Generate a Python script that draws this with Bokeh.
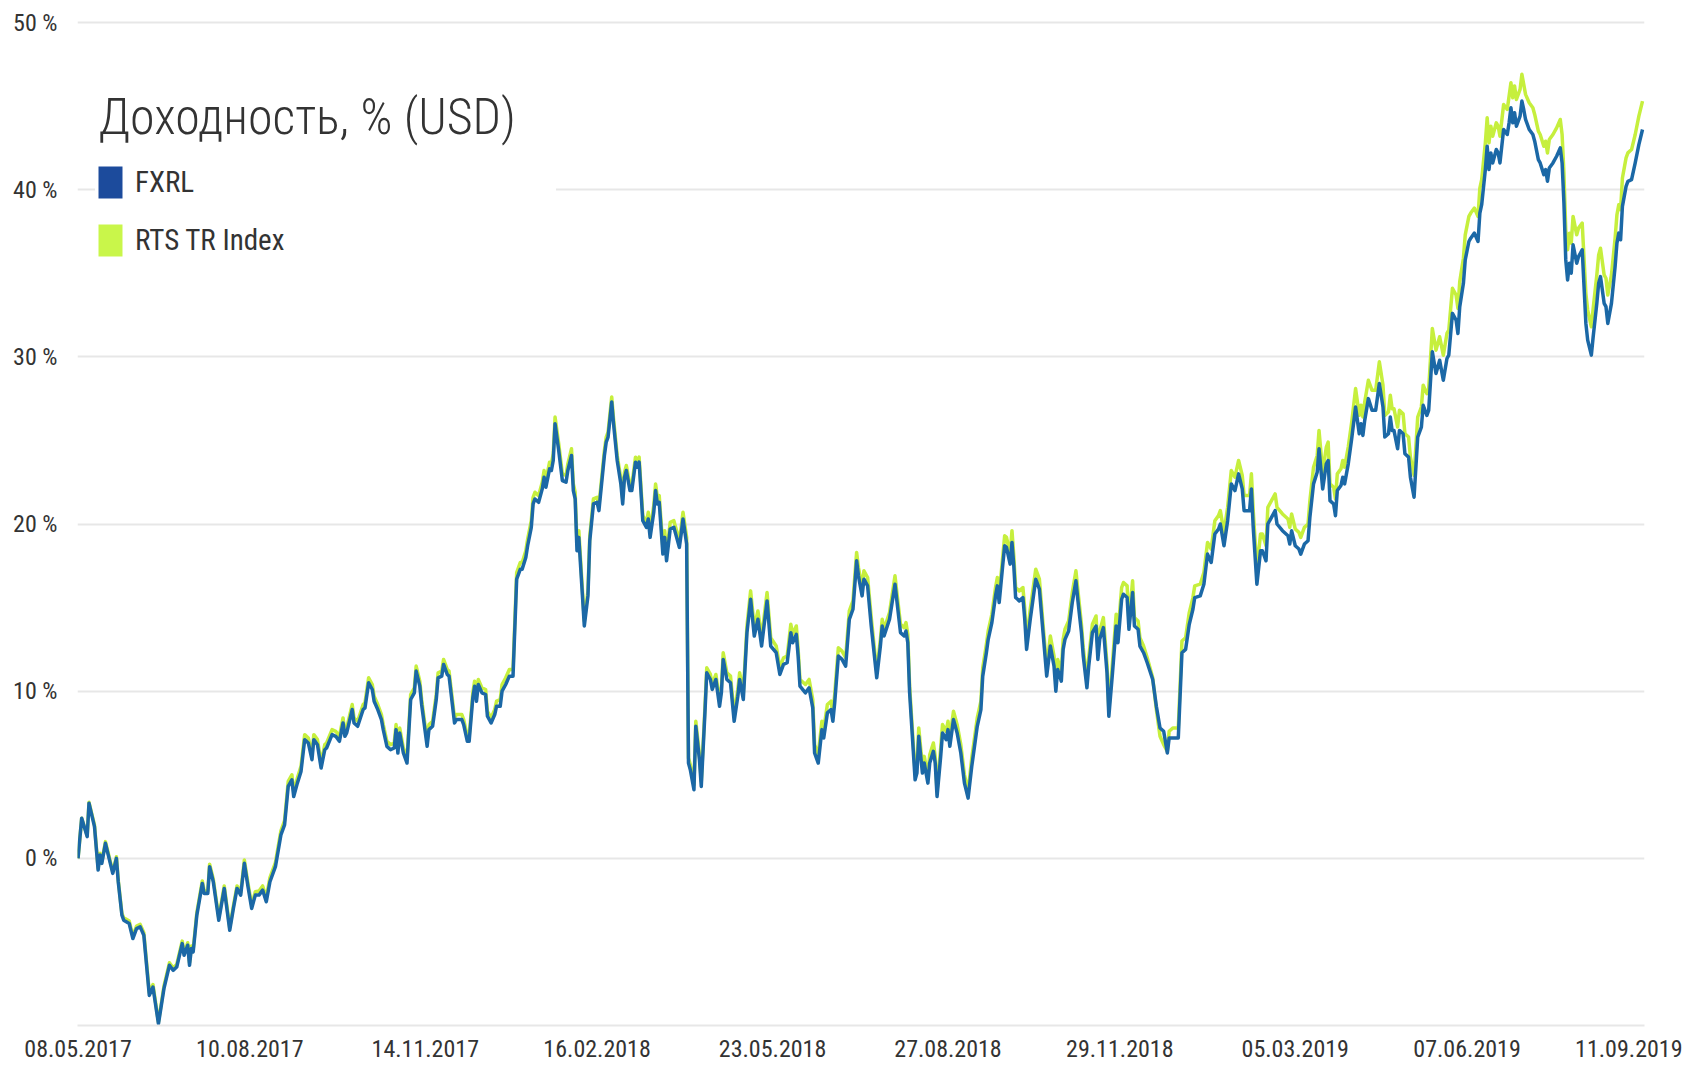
import pandas as pd
from bokeh.plotting import figure
from bokeh.models import (ColumnDataSource, Range1d, FixedTicker, PrintfTickFormatter,
                          CustomJSTickFormatter, Legend, LegendItem, Label)
from bokeh.embed import file_html
from bokeh.resources import INLINE

# ---------------- data ----------------
start_date = "2017-05-08"

day_offsets = [
    0, 2, 5, 6, 9, 11, 12, 13, 15, 19, 21, 22, 24, 25, 28, 30, 32, 34, 36, 39, 41, 44, 47, 50, 52, 54, 57, 58, 60, 61,
    62, 63, 65, 68, 69, 71, 72, 74, 77, 80, 83, 85, 87, 89, 91, 93, 95, 97, 99, 101, 103, 105, 108, 111,
    113, 115, 117, 118, 120, 122, 124, 126, 128, 129, 131, 133, 135, 136, 139, 141, 143, 145, 146, 147, 150, 151,
    153, 156, 157, 159, 161, 162, 164, 166, 167, 169, 171, 173, 174, 175, 176,
    178, 180, 182, 184, 185, 187, 188, 191, 192, 194, 196, 197, 199, 200, 202, 203, 206, 207, 210, 211,
    213, 214, 216, 217, 218, 219, 221, 223, 224, 226, 228, 229, 231, 232, 234, 236, 238, 240, 242, 243,
    245, 246, 248, 249, 250, 252, 254, 255, 256, 258, 259, 260, 261, 263, 265, 267, 268, 270, 271, 272,
    273, 274, 277, 279, 280, 282, 284, 285, 288, 289, 290, 292, 293, 295, 297, 298, 299, 300, 302, 303,
    305, 306, 307, 309, 311, 312, 313, 315, 316, 317, 318, 320, 321, 322, 324, 326, 329, 330, 331, 333,
    334, 335, 337, 338, 340, 341, 343, 344, 346, 347, 349, 351, 352, 353, 355, 357, 359, 361, 362, 364,
    366, 368, 370, 372, 374, 377, 379, 382, 384, 386, 388, 390, 391, 393, 394, 395, 398, 400, 402, 403, 405,
    407, 408, 410, 412, 413, 414, 416, 418, 420, 422, 424, 426, 427, 429, 430, 432, 434, 437, 439, 440,
    441, 444, 447, 450, 452, 453, 454, 455, 458, 459, 460, 462, 463, 465, 466, 468, 469, 470, 472, 473,
    475, 476, 477, 479, 481, 483, 485, 487, 489, 492, 494, 495, 497, 498, 500, 502, 503, 504, 506, 507,
    508, 510, 511, 512, 513, 515, 517, 518, 519, 521, 522, 524, 526, 528, 530, 532, 534, 535, 536, 538,
    539, 540, 542, 544, 546, 547, 549, 550, 552, 553, 555, 557, 558, 559, 561, 563, 564, 566, 568, 569,
    571, 572, 574, 575, 577, 578, 580, 581, 583, 585, 588, 590, 592, 594, 596, 597, 599, 602,
    604, 606, 608, 610, 611, 614, 616, 618, 620, 622, 624, 625, 627, 629, 631, 633, 635, 637, 638, 641,
    642, 643, 645, 647, 648, 650, 651, 653, 655, 656, 659, 662, 663, 664, 666, 668, 669, 671, 673, 674,
    676, 678, 679, 681, 683, 684, 685, 687, 688, 689, 691, 692, 693, 695, 697, 699, 701, 702, 703, 704,
    706, 708, 710, 712, 714, 715, 717, 718, 719, 720, 722, 723, 725, 726, 728, 729, 731, 733, 735, 736, 738, 739,
    741, 743, 745, 747, 749, 750, 752, 754, 755, 756, 758, 759, 761, 762, 764, 766, 767, 768, 770, 771,
    772, 773, 774, 776, 777, 778, 780, 782, 783, 784, 785, 786, 787, 789, 790, 791, 792, 794, 796, 797,
    799, 800, 802, 803, 804, 805, 807, 809, 811, 812, 813, 814, 815, 816, 817, 818, 820, 821, 823, 825,
    826, 828, 829, 831, 832, 833, 835, 836, 837, 839, 841, 842, 843, 844, 845, 847, 848, 850, 852, 854, 856,
]

fxrl = [
    0.0, 2.4, 1.3, 3.3, 1.9, -0.7, 0.2, -0.3, 0.9, -0.9, 0.0, -1.4, -3.4, -3.7, -3.9, -4.8, -4.2, -4.1, -4.6, -8.2,
    -7.7, -9.9, -7.8, -6.4, -6.7, -6.5, -5.1, -5.8, -5.2, -6.4, -5.4, -5.6, -3.4, -1.5, -2.1, -2.1, -0.5, -1.4, -3.7,
    -1.8, -4.3, -3.0, -1.8, -2.2, -0.3, -1.7, -3.0, -2.2, -2.2, -1.9, -2.6, -1.4, -0.5, 1.4,
    2.0, 4.3, 4.7, 3.7, 4.5, 5.2, 7.1, 6.9, 5.9, 7.1, 6.8, 5.4, 6.5, 6.6, 7.4, 7.3, 7.0, 8.1, 7.3, 7.5, 8.9, 8.1,
    7.9, 8.9, 9.0, 10.5, 10.1, 9.4, 8.9, 8.3, 7.7, 6.7, 6.5, 6.6, 7.7, 6.3, 7.5,
    6.3, 5.7, 9.5, 9.9, 11.2, 10.3, 9.2, 6.7, 7.7, 7.9, 9.5, 10.8, 10.9, 11.6, 11.0, 10.9, 8.1, 8.3, 8.3, 8.0,
    7.0, 7.0, 9.6, 10.3, 9.4, 10.4, 9.9, 9.8, 8.5, 8.1, 8.6, 9.1, 9.1, 10.0, 10.4, 10.9, 10.9, 16.7, 17.3, 17.3,
    18.0, 18.7, 19.8, 21.2, 21.5, 21.3, 22.1, 22.8, 22.2, 23.3, 23.2, 23.8, 26.0, 24.4, 22.6, 22.5, 23.2, 24.1, 22.0, 21.5,
    18.4, 19.2, 13.9, 15.7, 19.0, 21.2, 21.3, 20.8, 24.1, 24.9, 25.2, 27.3, 26.0, 23.8, 22.4, 21.2, 22.8, 23.2, 22.0, 22.0,
    23.7, 23.4, 23.7, 20.2, 19.8, 20.3, 19.2, 20.7, 22.0, 21.2, 21.3, 18.2, 19.2, 17.8, 19.7, 19.8, 18.6, 19.4, 20.3, 18.8,
    5.7, 5.3, 4.1, 7.9, 5.9, 4.3, 8.7, 11.1, 10.7, 10.1, 10.7, 9.1, 9.9, 11.9, 10.7, 10.5, 8.2, 9.7, 10.7, 9.5,
    13.5, 15.5, 13.3, 14.3, 12.7, 15.4, 12.7, 12.3, 11.0, 11.6, 11.7, 13.5, 12.9, 13.4, 12.1, 10.3, 9.9, 10.2, 9.0, 6.3, 5.7,
    7.7, 7.2, 8.7, 8.9, 8.2, 9.3, 12.1, 11.9, 11.5, 14.3, 14.9, 17.8, 16.9, 15.7, 16.7, 16.3, 13.9, 10.8, 12.7, 13.9,
    13.3, 14.3, 16.4, 13.5, 13.3, 13.6, 12.9, 9.9, 4.7, 5.1, 7.3, 5.1, 5.7, 4.5, 5.7, 6.4, 5.7, 3.7, 6.1, 7.5,
    7.1, 7.7, 6.7, 8.3, 7.5, 6.3, 4.5, 3.6, 5.5, 7.9, 8.9, 10.9, 12.3, 13.1, 14.1, 15.7, 16.3, 15.3, 17.6, 18.7,
    18.6, 17.6, 18.9, 17.5, 15.6, 15.4, 15.6, 14.3, 12.5, 14.3, 15.1, 16.7, 16.1, 13.5, 10.9, 12.7, 11.5, 10.0, 11.3, 10.6,
    12.5, 13.1, 13.6, 15.3, 16.6, 15.5, 13.5, 12.1, 10.2, 11.5, 13.5, 13.9, 11.9, 13.1, 13.8, 11.1, 8.5, 11.1, 13.9, 12.9,
    15.5, 15.8, 15.6, 13.7, 15.9, 13.9, 13.7, 12.7, 12.3, 11.7, 10.7, 9.1, 7.8, 7.6, 6.3, 7.2, 7.2, 7.2,
    12.3, 12.5, 14.0, 14.9, 15.6, 15.7, 16.4, 18.2, 17.7, 19.4, 19.7, 20.0, 18.7, 20.2, 22.4, 22.0, 23.0, 22.1, 20.8, 20.8,
    22.1, 19.8, 16.4, 18.4, 18.4, 17.8, 20.0, 20.4, 20.8, 20.0, 19.6, 19.3, 18.8, 19.6, 18.7, 18.5, 18.2, 18.8, 19.0, 20.4,
    22.4, 23.1, 24.5, 22.1, 23.6, 23.8, 21.4, 21.2, 20.5, 22.0, 22.3, 22.8, 22.4, 23.6, 25.2, 27.0, 25.4, 26.0, 25.3, 26.2,
    27.5, 26.8, 26.8, 28.4, 27.0, 25.2, 25.4, 26.4, 25.6, 25.6, 24.5, 25.6, 25.4, 24.2, 24.0, 22.8, 21.6, 25.2, 25.8, 27.1,
    26.5, 26.8,
    30.3, 29.0, 29.8, 28.6, 29.9, 30.1, 32.6, 32.2, 31.4, 33.0, 34.4, 35.8, 36.9, 37.1, 37.4, 36.9, 38.6, 39.1, 41.2, 42.6,
    41.2, 42.2, 41.6, 42.4, 42.2, 41.6, 43.6, 43.3, 44.0, 44.9, 44.0, 44.6, 43.8, 44.4, 45.3, 44.8, 44.2, 43.6, 43.3, 42.9,
    41.8, 41.6, 40.9, 41.2, 40.5, 41.3, 41.6, 42.0, 42.5, 41.6, 39.2, 35.8, 34.6, 35.6, 35.0, 36.7, 35.6, 36.0, 36.4, 32.0,
    31.0, 30.1, 31.2, 33.2, 34.4, 34.8, 33.2, 33.0, 32.0, 33.2, 35.4, 36.8, 37.4, 37.0, 39.0, 40.2, 40.5, 40.6, 41.6, 42.7,
    43.6,
]

rts_tr = [
    0.0, 2.4, 1.35, 3.35, 2.0, -0.6, 0.3, -0.2, 1.0, -0.8, 0.1, -1.3, -3.3, -3.55, -3.75, -4.65, -4.05, -3.95, -4.45, -8.05,
    -7.55, -9.8, -7.65, -6.25, -6.55, -6.35, -4.95, -5.65, -5.05, -6.25, -5.25, -5.45, -3.25, -1.35, -1.95, -1.95, -0.35,
    -1.25, -3.55, -1.65, -4.15, -2.85, -1.65, -2.05, -0.1, -1.5, -2.8, -2.0, -1.95, -1.65, -2.35, -1.15, -0.25, 1.65,
    2.25, 4.6, 5.0, 4.0, 4.8, 5.5, 7.4, 7.2, 6.2, 7.4, 7.1, 5.7, 6.8, 6.9, 7.7, 7.6, 7.3, 8.4, 7.6, 7.8, 9.2, 8.4,
    8.2, 9.2, 9.3, 10.8, 10.4, 9.7, 9.2, 8.6, 8.0, 7.0, 6.8, 6.9, 8.0, 6.6, 7.8,
    6.6, 6.0, 9.8, 10.2, 11.5, 10.6, 9.5, 7.0, 8.0, 8.2, 9.8, 11.1, 11.2, 11.9, 11.3, 11.2, 8.4, 8.6, 8.6, 8.3,
    7.3, 7.3, 9.9, 10.6, 9.7, 10.7, 10.2, 10.1, 8.8, 8.4, 8.9, 9.4, 9.5, 10.4, 10.8, 11.3, 11.3, 17.1, 17.7, 17.7,
    18.4, 19.1, 20.2, 21.6, 21.9, 21.7, 22.5, 23.2, 22.6, 23.7, 23.6, 24.2, 26.4, 24.8, 23.0, 22.9, 23.6, 24.5, 22.4, 21.9,
    18.8, 19.6, 14.2, 16.0, 19.3, 21.5, 21.6, 21.1, 24.4, 25.2, 25.5, 27.6, 26.3, 24.1, 22.7, 21.5, 23.1, 23.5, 22.3, 22.3,
    24.0, 23.7, 24.0, 20.5, 20.1, 20.7, 19.6, 21.1, 22.4, 21.6, 21.7, 18.6, 19.6, 18.2, 20.1, 20.2, 19.0, 19.8, 20.7, 19.2,
    6.0, 5.6, 4.4, 8.2, 6.2, 4.6, 9.0, 11.4, 11.0, 10.4, 11.0, 9.4, 10.2, 12.3, 11.1, 10.9, 8.6, 10.1, 11.1, 9.9,
    13.9, 16.0, 13.8, 14.8, 13.2, 15.9, 13.2, 12.7, 11.4, 12.0, 12.1, 14.0, 13.4, 13.9, 12.5, 10.7, 10.4, 10.7, 9.5, 6.8, 6.2,
    8.2, 7.7, 9.2, 9.4, 8.7, 9.8, 12.6, 12.4, 12.0, 14.8, 15.4, 18.3, 17.4, 16.2, 17.2, 16.8, 14.4, 11.2, 13.1, 14.3,
    13.7, 14.7, 16.9, 14.0, 13.8, 14.1, 13.4, 10.3, 5.1, 5.5, 7.8, 5.5, 6.1, 4.9, 6.2, 6.9, 6.1, 4.0, 6.6, 8.0,
    7.6, 8.2, 7.2, 8.8, 8.0, 6.8, 5.0, 4.0, 6.0, 8.4, 9.4, 11.4, 12.8, 13.6, 14.6, 16.2, 16.8, 15.8, 18.1, 19.3,
    19.2, 18.2, 19.6, 18.1, 16.2, 16.0, 16.2, 14.9, 13.0, 14.9, 15.7, 17.3, 16.7, 14.0, 11.4, 13.3, 12.1, 10.5, 11.9, 11.2,
    13.1, 13.7, 14.2, 15.9, 17.2, 16.1, 14.0, 12.6, 10.6, 12.0, 14.0, 14.5, 12.4, 13.6, 14.4, 11.6, 8.9, 11.7, 14.6, 13.5,
    16.2, 16.5, 16.3, 14.2, 16.6, 14.4, 14.2, 13.2, 12.7, 12.0, 10.8, 8.9, 7.3, 6.8, 6.4, 7.6, 7.8, 7.8,
    13.0, 13.2, 14.7, 15.6, 16.3, 16.4, 17.1, 18.9, 18.5, 20.2, 20.5, 20.8, 19.5, 21.0, 23.2, 22.8, 23.8, 22.9, 21.7, 21.7,
    23.0, 20.8, 17.3, 19.4, 19.4, 18.7, 21.0, 21.4, 21.8, 21.0, 20.6, 20.3, 19.8, 20.6, 19.7, 19.5, 19.2, 19.8, 20.0, 21.4,
    23.4, 24.1, 25.6, 23.1, 24.6, 24.9, 22.4, 22.2, 21.5, 23.0, 23.3, 23.8, 23.4, 24.6, 26.2, 28.1, 26.5, 27.1, 26.4, 27.3,
    28.6, 28.0, 28.0, 29.7, 28.3, 26.5, 26.7, 27.7, 26.9, 26.9, 25.8, 26.8, 26.6, 25.4, 25.2, 24.0, 22.9, 26.4, 27.0, 28.3,
    27.8, 28.1,
    31.7, 30.4, 31.2, 30.1, 31.4, 31.6, 34.1, 33.7, 32.9, 34.5, 35.9, 37.3, 38.4, 38.6, 38.9, 38.4, 40.1, 40.6, 42.8, 44.3,
    42.8, 43.8, 43.2, 44.0, 43.8, 43.2, 45.1, 44.8, 45.6, 46.4, 45.5, 46.2, 45.4, 46.0, 46.9, 46.3, 45.7, 45.2, 44.9, 44.5,
    43.5, 43.3, 42.6, 42.9, 42.2, 43.0, 43.3, 43.7, 44.2, 43.3, 41.0, 37.6, 36.4, 37.4, 36.8, 38.4, 37.3, 37.7, 38.0, 33.8,
    32.8, 31.8, 32.9, 34.9, 36.1, 36.5, 34.9, 34.7, 33.7, 34.9, 37.1, 38.5, 39.1, 38.8, 40.7, 41.9, 42.2, 42.4, 43.3, 44.4,
    45.3,
]

x_tick_dates = ["2017-05-08", "2017-08-10", "2017-11-14", "2018-02-16", "2018-05-23",
                "2018-08-27", "2018-11-29", "2019-03-05", "2019-06-07", "2019-09-11"]
x_tick_labels = ["08.05.2017", "10.08.2017", "14.11.2017", "16.02.2018", "23.05.2018",
                 "27.08.2018", "29.11.2018", "05.03.2019", "07.06.2019", "11.09.2019"]
y_ticks = [0, 10, 20, 30, 40, 50]
y_floor = -10

series_names = ["FXRL", "RTS TR Index"]
chart_title = "Доходность, % (USD)"

assert len(day_offsets) == len(fxrl) == len(rts_tr), (len(day_offsets), len(fxrl), len(rts_tr))

# ---------------- styling ----------------
FONT = "Roboto Condensed, Roboto, sans-serif"
TITLE_FONT = "Roboto Condensed Light, Roboto Condensed, Roboto, sans-serif"
TXT = "#333333"
BLUE_LINE = "#1b68a6"
GREEN_LINE = "#c6ef3d"
BLUE_SW = "#1c4b9c"
GREEN_SW = "#c9f64a"
GRID = "#e7e7e7"

t0 = pd.Timestamp(start_date)
dates = t0 + pd.to_timedelta(day_offsets, unit="D")
last_day = pd.Timestamp(x_tick_dates[-1])

src = ColumnDataSource(dict(date=dates, fxrl=fxrl, rts=rts_tr))

p = figure(width=1688, height=1065, x_axis_type="datetime",
           toolbar_location=None, output_backend="svg",
           x_range=Range1d((t0 - pd.Timedelta(hours=7)).to_pydatetime(),
                           (last_day + pd.Timedelta(hours=26)).to_pydatetime()),
           y_range=Range1d(y_floor, 50.3),
           min_border_left=77, min_border_right=44, min_border_top=17, min_border_bottom=39,
           background_fill_color="white", border_fill_color="white", outline_line_color=None)

p.xgrid.visible = False
p.ygrid.ticker = FixedTicker(ticks=y_ticks)
p.ygrid.grid_line_color = GRID
p.ygrid.grid_line_width = 2

# y axis
ay = p.yaxis[0]
ay.ticker = FixedTicker(ticks=y_ticks)
ay.formatter = PrintfTickFormatter(format="%d %%")
ay.axis_line_color = None
ay.major_tick_line_color = None
ay.minor_tick_line_color = None
ay.major_tick_in = 0
ay.major_tick_out = 0
ay.major_label_standoff = 20
ay.major_label_text_font = FONT
ay.major_label_text_font_size = "24px"
ay.major_label_text_color = TXT

# x axis (its line is the bottom -10 % rule)
tick_ms = [pd.Timestamp(d).value / 1e6 for d in x_tick_dates]
shown_labels = list(x_tick_labels)
shown_labels[-1] = shown_labels[-1] + "\u2008"   # nudge the last label inside the canvas
ax = p.xaxis[0]
ax.ticker = FixedTicker(ticks=tick_ms)
ax.formatter = CustomJSTickFormatter(args=dict(tick_vals=tick_ms, tick_texts=shown_labels), code="""
    let best = -1, bd = Infinity;
    for (let i = 0; i < tick_vals.length; i++) {
        const d = Math.abs(tick_vals[i] - tick);
        if (d < bd) { bd = d; best = i; }
    }
    return (best >= 0 && bd < 86400000) ? tick_texts[best] : "";
""")
ax.axis_line_color = GRID
ax.axis_line_width = 2
ax.major_tick_line_color = None
ax.minor_tick_line_color = None
ax.major_tick_in = 0
ax.major_tick_out = 0
ax.major_label_standoff = 9
ax.major_label_text_font = FONT
ax.major_label_text_font_size = "24px"
ax.major_label_text_color = TXT

# series
p.line("date", "rts", source=src, line_color=GREEN_LINE, line_width=3.5, line_join="round")
p.line("date", "fxrl", source=src, line_color=BLUE_LINE, line_width=3.5, line_join="round")

# legend swatches (NaN data: nothing drawn in the plot area)
nan = float("nan")
sw_fx = p.rect(x=[nan], y=[nan], width=1, height=1, fill_color=BLUE_SW, line_color=None)
sw_rts = p.rect(x=[nan], y=[nan], width=1, height=1, fill_color=GREEN_SW, line_color=None)
legend = Legend(items=[LegendItem(label=series_names[0], renderers=[sw_fx]),
                       LegendItem(label=series_names[1], renderers=[sw_rts])],
                location=(18, 765), orientation="vertical",
                glyph_width=30, glyph_height=40, label_height=40, label_width=421,
                label_standoff=10, spacing=18, padding=0, margin=0,
                border_line_color=None, background_fill_color="white", background_fill_alpha=1.0,
                label_text_font=FONT, label_text_font_size="29px", label_text_color=TXT)
p.add_layout(legend)

p.add_layout(Label(x=21, y=909, x_units="screen", y_units="screen", text=chart_title,
                   text_font=TITLE_FONT, text_font_size="50px", text_color="#333333",
                   text_baseline="middle", text_align="left"))

open("out.html", "w").write(file_html(p, INLINE))
